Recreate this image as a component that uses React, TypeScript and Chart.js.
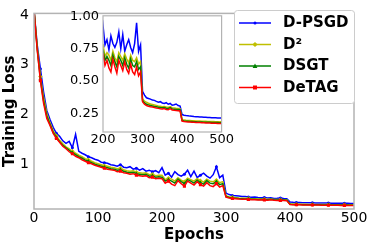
import React, { useEffect, useRef } from 'react';
import { Chart, registerables } from 'chart.js';
Chart.register(...registerables);

// epochs 0..500, one value every STEP epochs
const STEP = 5;

const D_PSGD = [
  4.10, 3.40, 2.92, 2.45, 2.08, 1.90, 1.74, 1.62, 1.56, 1.47,
  1.42, 1.46, 1.33, 1.60, 1.26, 1.22, 1.19, 1.15, 1.13, 1.10,
  1.08, 1.04, 1.03, 1.02, 0.99, 0.98, 0.96, 0.99, 0.94, 0.93,
  0.95, 0.90, 0.92, 0.88, 0.91, 0.86, 0.88, 0.85, 0.87, 0.83,
  0.93, 0.78, 0.82, 0.74, 0.85, 0.79, 0.76, 0.80, 0.88, 0.75,
  0.86, 0.73, 0.78, 0.82, 0.76, 0.72, 0.79, 0.95, 0.73, 0.78,
  0.42, 0.39, 0.37, 0.365, 0.36, 0.352, 0.35, 0.342, 0.336, 0.34,
  0.33, 0.326, 0.332, 0.32, 0.326, 0.312, 0.316, 0.322, 0.31, 0.306,
  0.24, 0.235, 0.232, 0.23, 0.228, 0.227, 0.225, 0.224, 0.223, 0.222,
  0.221, 0.22, 0.219, 0.218, 0.217, 0.216, 0.215, 0.215, 0.214, 0.213,
  0.213,
];

const D2 = [
  4.10, 3.36, 2.76, 2.34, 2.02, 1.83, 1.67, 1.57, 1.48, 1.41,
  1.35, 1.31, 1.26, 1.22, 1.18, 1.15, 1.11, 1.09, 1.06, 1.03,
  1.01, 0.99, 0.97, 0.96, 0.94, 0.93, 0.91, 0.92, 0.89, 0.87,
  0.86, 0.87, 0.84, 0.83, 0.82, 0.83, 0.79, 0.80, 0.77, 0.78,
  0.78, 0.69, 0.72, 0.70, 0.66, 0.73, 0.68, 0.65, 0.72, 0.69,
  0.66, 0.71, 0.67, 0.64, 0.70, 0.66, 0.65, 0.68, 0.63, 0.65,
  0.36, 0.345, 0.335, 0.328, 0.322, 0.318, 0.314, 0.31, 0.306, 0.304,
  0.301, 0.303, 0.298, 0.296, 0.302, 0.293, 0.291, 0.289, 0.288, 0.286,
  0.20, 0.198, 0.196, 0.195, 0.194, 0.193, 0.192, 0.191, 0.19, 0.19,
  0.189, 0.188, 0.188, 0.187, 0.187, 0.186, 0.186, 0.185, 0.185, 0.184,
  0.184,
];

const DSGT = [
  4.10, 3.32, 2.71, 2.27, 1.97, 1.80, 1.64, 1.54, 1.45, 1.38,
  1.33, 1.28, 1.23, 1.19, 1.15, 1.12, 1.08, 1.06, 1.03, 1.00,
  0.98, 0.96, 0.94, 0.93, 0.91, 0.90, 0.88, 0.89, 0.86, 0.84,
  0.83, 0.84, 0.81, 0.80, 0.79, 0.80, 0.76, 0.77, 0.74, 0.75,
  0.74, 0.66, 0.69, 0.66, 0.62, 0.70, 0.65, 0.61, 0.69, 0.66,
  0.62, 0.68, 0.63, 0.60, 0.67, 0.62, 0.61, 0.65, 0.59, 0.61,
  0.35, 0.33, 0.32, 0.315, 0.31, 0.307, 0.303, 0.30, 0.297, 0.294,
  0.292, 0.295, 0.289, 0.287, 0.294, 0.284, 0.282, 0.28, 0.279, 0.277,
  0.195, 0.191, 0.189, 0.188, 0.187, 0.186, 0.185, 0.184, 0.183, 0.183,
  0.182, 0.181, 0.181, 0.18, 0.18, 0.179, 0.179, 0.178, 0.178, 0.177,
  0.177,
];

const DETAG = [
  4.10, 3.30, 2.68, 2.22, 1.92, 1.78, 1.62, 1.52, 1.44, 1.36,
  1.31, 1.25, 1.21, 1.16, 1.13, 1.09, 1.06, 1.03, 1.01, 0.98,
  0.96, 0.94, 0.92, 0.90, 0.89, 0.88, 0.85, 0.86, 0.83, 0.82,
  0.80, 0.81, 0.78, 0.77, 0.76, 0.77, 0.73, 0.74, 0.71, 0.72,
  0.71, 0.62, 0.66, 0.60, 0.57, 0.67, 0.61, 0.56, 0.66, 0.62,
  0.58, 0.65, 0.59, 0.56, 0.63, 0.57, 0.55, 0.61, 0.54, 0.57,
  0.34, 0.32, 0.31, 0.305, 0.30, 0.298, 0.295, 0.29, 0.288, 0.285,
  0.283, 0.286, 0.28, 0.278, 0.286, 0.275, 0.273, 0.272, 0.27, 0.268,
  0.19, 0.186, 0.184, 0.183, 0.182, 0.181, 0.18, 0.179, 0.178, 0.178,
  0.177, 0.176, 0.175, 0.175, 0.174, 0.173, 0.172, 0.172, 0.171, 0.17,
  0.17,
];

const X_TICKS = [0, 100, 200, 300, 400, 500];
const Y_TICKS = [1, 2, 3, 4];
const INSET_X_TICKS = [200, 300, 400, 500];
const INSET_Y_TICKS = [0.25, 0.5, 0.75, 1.0];

const SERIES = [
  { label: 'D-PSGD', values: D_PSGD, color: '#0000ff', marker: 'circle', order: 3 },
  { label: 'D²', values: D2, color: '#bfbf00', marker: 'rectRot', order: 2 },
  { label: 'DSGT', values: DSGT, color: '#008000', marker: 'triangle', order: 1 },
  { label: 'DeTAG', values: DETAG, color: '#ff0000', marker: 'rect', order: 0 },
];

const FONT = 'DejaVu Sans';
const SPINE = '#b3b3b3';

function toPoints(values: number[]) {
  return values.map((v, i) => ({ x: i * STEP, y: v }));
}

function drawMarker(ctx: CanvasRenderingContext2D, kind: string, x: number, y: number, r: number, color: string) {
  ctx.save();
  ctx.fillStyle = color;
  ctx.beginPath();
  if (kind === 'circle') {
    ctx.arc(x, y, r, 0, Math.PI * 2);
  } else if (kind === 'rect') {
    ctx.rect(x - r, y - r, r * 2, r * 2);
  } else if (kind === 'rectRot') {
    ctx.moveTo(x, y - r * 1.3);
    ctx.lineTo(x + r * 1.3, y);
    ctx.lineTo(x, y + r * 1.3);
    ctx.lineTo(x - r * 1.3, y);
    ctx.closePath();
  } else {
    ctx.moveTo(x, y - r * 1.3);
    ctx.lineTo(x + r * 1.2, y + r);
    ctx.lineTo(x - r * 1.2, y + r);
    ctx.closePath();
  }
  ctx.fill();
  ctx.restore();
}

const framePlugin = {
  id: 'frame',
  beforeDatasetsDraw(chart: any) {
    const { ctx, chartArea: a } = chart;
    if (chart.options.plugins.frame?.fill) {
      ctx.save();
      ctx.fillStyle = '#ffffff';
      ctx.fillRect(a.left, a.top, a.right - a.left, a.bottom - a.top);
      ctx.restore();
    }
  },
  afterDatasetsDraw(chart: any) {
    const { ctx, chartArea: a } = chart;
    ctx.save();
    ctx.strokeStyle = SPINE;
    ctx.lineWidth = chart.options.plugins.frame?.width ?? 1.5;
    ctx.strokeRect(a.left, a.top, a.right - a.left, a.bottom - a.top);
    ctx.restore();
  },
};

const legendPlugin = {
  id: 'boxLegend',
  afterDraw(chart: any) {
    if (!chart.options.plugins.boxLegend?.show) return;
    const ctx: CanvasRenderingContext2D = chart.ctx;
    const x0 = 234.5, y0 = 10.5, w = 120, h = 93, r = 3;
    ctx.save();
    ctx.beginPath();
    ctx.moveTo(x0 + r, y0);
    ctx.lineTo(x0 + w - r, y0);
    ctx.quadraticCurveTo(x0 + w, y0, x0 + w, y0 + r);
    ctx.lineTo(x0 + w, y0 + h - r);
    ctx.quadraticCurveTo(x0 + w, y0 + h, x0 + w - r, y0 + h);
    ctx.lineTo(x0 + r, y0 + h);
    ctx.quadraticCurveTo(x0, y0 + h, x0, y0 + h - r);
    ctx.lineTo(x0, y0 + r);
    ctx.quadraticCurveTo(x0, y0, x0 + r, y0);
    ctx.closePath();
    ctx.fillStyle = '#ffffff';
    ctx.fill();
    ctx.strokeStyle = '#cccccc';
    ctx.lineWidth = 1;
    ctx.stroke();
    const rows = [23, 44.5, 66, 87.5];
    SERIES.forEach((s, i) => {
      const y = rows[i];
      ctx.strokeStyle = s.color;
      ctx.lineWidth = 1.5;
      ctx.beginPath();
      ctx.moveTo(239, y);
      ctx.lineTo(271, y);
      ctx.stroke();
      drawMarker(ctx, s.marker, 255, y, s.marker === 'circle' ? 1.5 : 2, s.color);
      ctx.fillStyle = '#000000';
      ctx.font = `bold 15px "${FONT}"`;
      ctx.textBaseline = 'middle';
      ctx.textAlign = 'left';
      ctx.fillText(s.label, 283, y + 0.5);
    });
    ctx.restore();
  },
};

function makeDatasets(withMarkers: boolean) {
  return SERIES.map((s) => ({
    label: s.label,
    data: toPoints(s.values),
    borderColor: s.color,
    backgroundColor: s.color,
    borderWidth: 1.5,
    order: s.order,
    pointStyle: s.marker,
    pointBorderWidth: 0,
    pointRadius: withMarkers
      ? (c: any) => (c.dataIndex % 5 === 2 ? (s.marker === 'circle' ? 1.5 : 2.2) : 0)
      : 0,
    tension: 0,
  }));
}

export default function App() {
  const mainRef = useRef<HTMLCanvasElement>(null);
  const insetRef = useRef<HTMLCanvasElement>(null);

  useEffect(() => {
    const tickFont = { family: FONT, size: 14 };
    const main = new Chart(mainRef.current as HTMLCanvasElement, {
      type: 'line',
      data: { datasets: makeDatasets(true) as any },
      plugins: [framePlugin, legendPlugin],
      options: {
        animation: false,
        responsive: false,
        devicePixelRatio: 1,
        layout: { padding: { top: 10, right: 20, left: 0, bottom: 0 } },
        plugins: {
          legend: { display: false },
          tooltip: { enabled: false },
          frame: { width: 1.5 },
          boxLegend: { show: true },
        } as any,
        scales: {
          x: {
            type: 'linear',
            min: 0,
            max: 500,
            afterBuildTicks: (s: any) => { s.ticks = X_TICKS.map((v) => ({ value: v })); },
            afterFit: (s: any) => { s.height = 40; },
            grid: { display: false, drawTicks: false },
            border: { display: false },
            ticks: { font: tickFont, color: '#000', padding: 1, maxRotation: 0, autoSkip: false },
            title: {
              display: true,
              text: 'Epochs',
              color: '#000',
              font: { family: FONT, size: 15, weight: 'bold' },
              padding: { top: 0, bottom: 5 },
            },
          },
          y: {
            type: 'linear',
            min: 0.1,
            max: 4.03,
            afterBuildTicks: (s: any) => { s.ticks = Y_TICKS.map((v) => ({ value: v })); },
            afterFit: (s: any) => { s.width = 34; },
            grid: { display: false, drawTicks: false },
            border: { display: false },
            ticks: { font: tickFont, color: '#000', padding: 5, autoSkip: false },
            title: {
              display: true,
              text: 'Training Loss',
              color: '#000',
              font: { family: FONT, size: 15, weight: 'bold' },
              padding: { top: 1.5, bottom: 0 },
            },
          },
        },
      } as any,
    });

    const insetFont = { family: FONT, size: 13 };
    const inset = new Chart(insetRef.current as HTMLCanvasElement, {
      type: 'line',
      data: { datasets: makeDatasets(false) as any },
      plugins: [framePlugin],
      options: {
        animation: false,
        responsive: false,
        devicePixelRatio: 1,
        layout: { padding: { top: 8, right: 1, left: 0, bottom: 0 } },
        plugins: {
          legend: { display: false },
          tooltip: { enabled: false },
          frame: { width: 1.2, fill: true },
        } as any,
        scales: {
          x: {
            type: 'linear',
            min: 200,
            max: 500,
            afterBuildTicks: (s: any) => { s.ticks = INSET_X_TICKS.map((v) => ({ value: v })); },
            afterFit: (s: any) => { s.height = 22; },
            grid: { display: false, drawTicks: false },
            border: { display: false },
            ticks: { font: insetFont, color: '#000', padding: 0, maxRotation: 0, autoSkip: false },
          },
          y: {
            type: 'linear',
            min: 0.105,
            max: 1.005,
            afterBuildTicks: (s: any) => { s.ticks = INSET_Y_TICKS.map((v) => ({ value: v })); },
            afterFit: (s: any) => { s.width = 45; },
            grid: { display: false, drawTicks: false },
            border: { display: false },
            ticks: {
              font: insetFont,
              color: '#000',
              padding: 4,
              autoSkip: false,
              callback: (v: any) => Number(v).toFixed(2),
            },
          },
        },
      } as any,
    });

    return () => {
      main.destroy();
      inset.destroy();
    };
  }, []);

  return (
    <div style={{ position: 'fixed', left: 0, top: 0, width: 374, height: 249, background: '#fff', overflow: 'hidden' }}>
      <canvas
        ref={mainRef}
        width={374}
        height={249}
        style={{ position: 'absolute', left: 0, top: 0, width: 374, height: 249 }}
      />
      <canvas
        ref={insetRef}
        width={176}
        height={150}
        style={{ position: 'absolute', left: 58, top: 4, width: 176, height: 150 }}
      />
    </div>
  );
}
